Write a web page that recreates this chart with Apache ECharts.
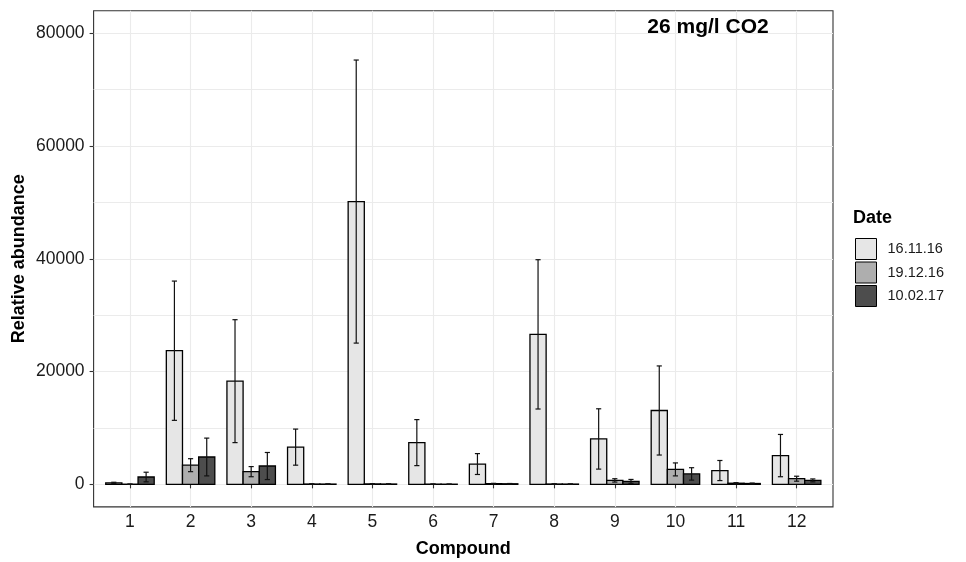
<!DOCTYPE html>
<html>
<head>
<meta charset="utf-8">
<script src="https://cdn.jsdelivr.net/npm/echarts@6/dist/echarts.min.js"></script>
<style>
  html, body { margin: 0; padding: 0; background: #ffffff; }
  #chart { width: 966px; height: 562px; }
</style>
</head>
<body>
<div id="chart"></div>
<script>
// Compounds on the x axis and the three sampling dates
const compounds = [1, 2, 3, 4, 5, 6, 7, 8, 9, 10, 11, 12];
const dates = ['16.11.16', '19.12.16', '10.02.17'];

// Mean relative abundance per compound and date, with standard deviations
const mean_161116 = [250, 23700, 18300, 6600, 50150, 7400, 3600, 26600, 8050, 13100, 2450, 5100];
const sd_161116   = [120, 12350, 10900, 3200, 25100, 4080, 1850, 13240, 5350, 7900, 1780, 3750];
const mean_191216 = [30, 3400, 2250, 60, 80, 40, 120, 60, 700, 2650, 200, 1000];
const sd_191216   = [20, 1150, 900, 30, 40, 20, 60, 30, 300, 1150, 100, 440];
const mean_100217 = [1300, 4850, 3250, 50, 60, 30, 100, 50, 520, 1850, 150, 700];
const sd_100217   = [850, 3350, 2400, 30, 30, 20, 50, 20, 350, 1100, 80, 260];

// Axis tick values
const yMajorTicks = [0, 20000, 40000, 60000, 80000];
const yAllGrid = [0, 10000, 20000, 30000, 40000, 50000, 60000, 70000, 80000];

const means = [mean_161116, mean_191216, mean_100217];
const sds = [sd_161116, sd_191216, sd_100217];
const fills = ['#E6E6E6', '#AEAEAE', '#4D4D4D'];

const FONT = '"Liberation Sans", Arial, Helvetica, sans-serif';
const BAR_W = 0.8 / 3;   // width of one dodged bar in category units
const CAP_W = 0.085;     // error-bar cap width in category units

function barRenderer(offset, fill) {
  return function (params, api) {
    const x = api.value(0) + offset;
    const v = api.value(1);
    const tl = api.coord([x - BAR_W / 2, v]);
    const br = api.coord([x + BAR_W / 2, 0]);
    return {
      type: 'rect',
      shape: { x: tl[0], y: tl[1], width: br[0] - tl[0], height: br[1] - tl[1] },
      style: { fill: fill, stroke: '#000000', lineWidth: 1.3 }
    };
  };
}

function errRenderer(offset) {
  return function (params, api) {
    const x = api.value(0) + offset;
    const v = api.value(1), e = api.value(2);
    const hi = api.coord([x, v + e]);
    const lo = api.coord([x, v - e]);
    const l = api.coord([x - CAP_W / 2, v])[0];
    const r = api.coord([x + CAP_W / 2, v])[0];
    const st = { stroke: '#111111', lineWidth: 1.2 };
    return {
      type: 'group',
      children: [
        { type: 'line', shape: { x1: hi[0], y1: hi[1], x2: lo[0], y2: lo[1] }, style: st },
        { type: 'line', shape: { x1: l, y1: hi[1], x2: r, y2: hi[1] }, style: st },
        { type: 'line', shape: { x1: l, y1: lo[1], x2: r, y2: lo[1] }, style: st }
      ]
    };
  };
}

const barSeries = dates.map((d, i) => ({
  name: d,
  type: 'custom',
  xAxisIndex: 0, yAxisIndex: 0,
  itemStyle: { color: fills[i], borderColor: '#000', borderWidth: 1 },
  renderItem: barRenderer((i - 1) * BAR_W, fills[i]),
  data: compounds.map((c, k) => [c, means[i][k], sds[i][k]]),
  z: 2, silent: true
}));

const errSeries = dates.map((d, i) => ({
  name: 'sd ' + d,
  type: 'custom',
  xAxisIndex: 0, yAxisIndex: 0,
  renderItem: errRenderer((i - 1) * BAR_W),
  data: compounds.map((c, k) => [c, means[i][k], sds[i][k]]),
  z: 3, silent: true
}));

const chart = echarts.init(document.getElementById('chart'), null, { renderer: 'canvas' });

chart.setOption({
  animation: false,
  backgroundColor: '#ffffff',
  grid: {
    left: 93.6, top: 10.7, right: 133, bottom: 55.1,
    show: true, borderColor: '#333333', borderWidth: 1.1, backgroundColor: 'transparent',
    containLabel: false
  },
  xAxis: {
    type: 'value',
    min: 0.4, max: 12.6,
    axisLine: { show: false },
    axisTick: { show: true, customValues: compounds, length: 4, lineStyle: { color: '#333333', width: 1.1 } },
    axisLabel: { customValues: compounds, fontSize: 17.5, color: '#1a1a1a', fontFamily: FONT, margin: 6 },
    splitLine: { show: true, lineStyle: { color: '#EBEBEB', width: 1.1 } }
  },
  yAxis: [
    {
      type: 'value',
      min: -4000, max: 84000,
      position: 'left',
      axisLine: { show: false },
      axisTick: { show: true, customValues: yMajorTicks, length: 4, lineStyle: { color: '#333333', width: 1.1 } },
      axisLabel: {
        customValues: yMajorTicks, fontSize: 17.5, color: '#1a1a1a', fontFamily: FONT, margin: 9,
        formatter: (v) => String(v)
      },
      splitLine: { show: false }
    },
    {
      type: 'value',
      min: -4000, max: 84000,
      position: 'left',
      axisLine: { show: false },
      axisTick: { show: false, customValues: yAllGrid },
      axisLabel: { show: false },
      splitLine: { show: true, lineStyle: { color: '#EBEBEB', width: 1.1 } }
    }
  ],
  legend: {
    orient: 'vertical',
    left: 855, top: 238,
    padding: 0,
    itemWidth: 21, itemHeight: 21, itemGap: 1.5,
    icon: 'rect',
    selectedMode: false,
    textStyle: { fontSize: 14.5, color: '#1a1a1a', fontFamily: FONT, padding: [0, 0, 0, 6] },
    data: dates.map((d, i) => ({
      name: d,
      itemStyle: { color: fills[i], borderColor: '#000000', borderWidth: 1 }
    }))
  },
  graphic: [
    {
      type: 'text', x: 708, y: 27, z: 100,
      style: { text: '26 mg/l CO2', font: 'bold 21px ' + FONT, fill: '#000', align: 'center', verticalAlign: 'middle' }
    },
    {
      type: 'text', x: 853, y: 218, z: 100,
      style: { text: 'Date', font: 'bold 18px ' + FONT, fill: '#000', align: 'left', verticalAlign: 'middle' }
    },
    {
      type: 'text', x: 463.3, y: 549, z: 100,
      style: { text: 'Compound', font: 'bold 18px ' + FONT, fill: '#000', align: 'center', verticalAlign: 'middle' }
    },
    {
      type: 'text', x: 19, y: 258.8, rotation: Math.PI / 2, z: 100,
      style: { text: 'Relative abundance', font: 'bold 18px ' + FONT, fill: '#000', align: 'center', verticalAlign: 'middle' }
    }
  ],
  series: barSeries.concat(errSeries)
});
</script>
</body>
</html>
